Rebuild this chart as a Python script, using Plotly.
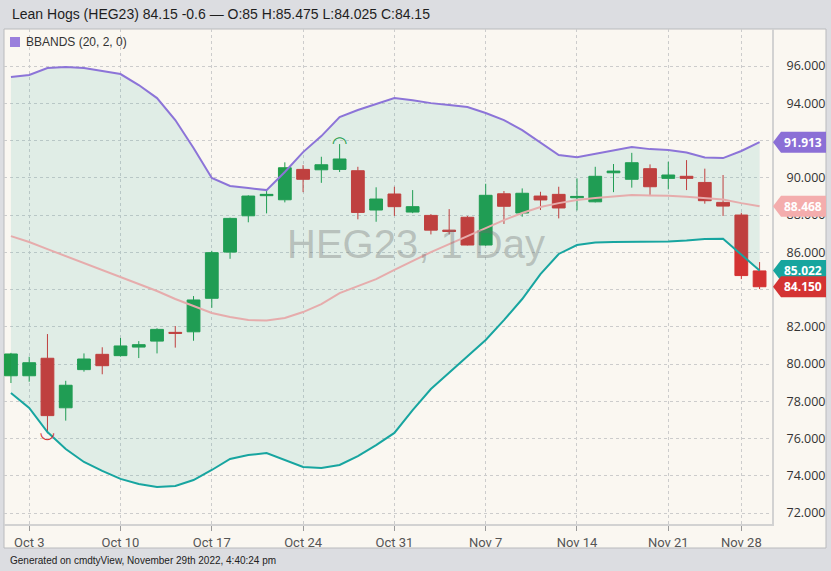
import plotly.graph_objects as go

# ---------------- data ----------------
dates = ["2022-09-30",
         "2022-10-03", "2022-10-04", "2022-10-05", "2022-10-06", "2022-10-07",
         "2022-10-10", "2022-10-11", "2022-10-12", "2022-10-13", "2022-10-14",
         "2022-10-17", "2022-10-18", "2022-10-19", "2022-10-20", "2022-10-21",
         "2022-10-24", "2022-10-25", "2022-10-26", "2022-10-27", "2022-10-28",
         "2022-10-31", "2022-11-01", "2022-11-02", "2022-11-03", "2022-11-04",
         "2022-11-07", "2022-11-08", "2022-11-09", "2022-11-10", "2022-11-11",
         "2022-11-14", "2022-11-15", "2022-11-16", "2022-11-17", "2022-11-18",
         "2022-11-21", "2022-11-22", "2022-11-23", "2022-11-25",
         "2022-11-28", "2022-11-29"]

opens = [79.37, 79.37, 80.31, 77.65, 79.70, 80.52, 80.45, 80.91, 81.23, 81.70,
         81.73, 83.53, 86.01, 87.96, 89.04, 88.82, 90.45, 90.43, 90.45, 90.38,
         88.27, 89.13, 88.16, 87.98, 87.19, 87.88, 86.39, 89.14, 88.11, 89.02,
         89.11, 88.93, 88.71, 90.27, 89.92, 90.49, 89.97, 90.08, 89.75, 88.68,
         88.00, 85.00]
highs = [80.60, 80.39, 81.61, 79.10, 80.57, 80.90, 81.40, 81.23, 81.92, 82.04,
         83.65, 86.08, 87.86, 89.06, 89.29, 90.83, 90.68, 91.13, 91.81, 90.59,
         89.49, 89.52, 89.34, 88.05, 88.32, 87.95, 89.68, 89.29, 89.43, 89.25,
         89.52, 89.97, 90.59, 90.74, 91.34, 90.72, 90.86, 90.95, 90.49, 90.15,
         88.12, 85.475]
lows = [78.98, 79.05, 76.28, 76.96, 79.59, 79.45, 80.40, 80.32, 80.57, 80.88,
        81.25, 83.02, 85.65, 87.61, 88.09, 88.68, 89.23, 89.73, 90.31, 87.77,
        87.64, 87.95, 88.10, 86.96, 86.96, 86.37, 86.35, 87.52, 87.91, 88.27,
        87.82, 88.25, 88.68, 89.23, 89.47, 89.02, 89.38, 89.34, 88.61, 87.95,
        84.56, 84.025]
closes = [80.54, 80.07, 77.23, 78.86, 80.27, 79.91, 80.97, 81.04, 81.86, 81.65,
          83.44, 85.98, 87.82, 89.02, 89.11, 90.54, 89.92, 90.70, 91.01, 88.14,
          88.86, 88.45, 88.45, 87.19, 87.12, 86.39, 89.06, 88.47, 89.17, 88.81,
          88.38, 89.00, 90.08, 90.36, 90.81, 89.52, 90.15, 89.97, 88.77, 88.48,
          84.75, 84.15]

bb_upper = [95.41, 95.52, 95.89, 95.95, 95.89, 95.73, 95.57, 94.98, 94.28, 93.10,
            91.60, 89.99, 89.56, 89.45, 89.34, 90.31, 91.38, 92.24, 93.26, 93.64,
            93.96, 94.28, 94.17, 94.01, 93.91, 93.80, 93.48, 93.10, 92.56, 91.87,
            91.22, 91.11, 91.28, 91.49, 91.65, 91.54, 91.49, 91.36, 91.09, 91.06,
            91.44, 91.913]
bb_mid = [86.87, 86.55, 86.17, 85.80, 85.42, 85.05, 84.67, 84.30, 83.92, 83.49,
          83.11, 82.74, 82.52, 82.36, 82.34, 82.47, 82.79, 83.22, 83.81, 84.19,
          84.56, 85.05, 85.53, 86.01, 86.44, 86.87, 87.30, 87.73, 88.11, 88.43,
          88.64, 88.81, 88.91, 88.99, 89.07, 89.05, 89.04, 88.98, 88.91, 88.84,
          88.64, 88.468]
bb_lower = [78.44, 77.64, 76.35, 75.44, 74.74, 74.26, 73.83, 73.56, 73.40, 73.45,
            73.77, 74.31, 74.90, 75.11, 75.22, 74.85, 74.47, 74.42, 74.58, 75.06,
            75.65, 76.30, 77.53, 78.66, 79.52, 80.38, 81.29, 82.36, 83.49, 84.83,
            85.91, 86.39, 86.52, 86.55, 86.55, 86.55, 86.58, 86.63, 86.71, 86.73,
            85.85, 85.022]

pivot_low_idx = 2
pivot_high_idx = 18

tick_dates = ["2022-10-03", "2022-10-10", "2022-10-17", "2022-10-24", "2022-10-31",
              "2022-11-07", "2022-11-14", "2022-11-21", "2022-11-28"]
tick_labels = ["Oct 3", "Oct 10", "Oct 17", "Oct 24", "Oct 31",
               "Nov 7", "Nov 14", "Nov 21", "Nov 28"]
y_ticks = [72, 74, 76, 78, 80, 82, 84, 86, 88, 90, 92, 94, 96]

title_text = "Lean Hogs (HEG23) 84.15 -0.6 \u2014 O:85 H:85.475 L:84.025 C:84.15"
legend_text = "BBANDS (20, 2, 0)"
watermark = "HEG23, 1 Day"
footer_text = "Generated on cmdtyView, November 29th 2022, 4:40:24 pm"

# ---------------- style ----------------
W, H = 831, 571
ML, MR, MT, MB = 4, 59, 29, 47
PW, PH = W - ML - MR, H - MT - MB
Y_RANGE = [71.41, 97.99]

def px(x):
    return (x - ML) / PW

def py(y):
    return (H - MB - y) / PH

GREEN = "#1f9d4a"
RED = "#d43333"
PURPLE = "#8c74d8"
PINK = "#e6acac"
TEAL = "#17a5a0"
CREAM = "#faf7f1"
GRAYBG = "#dcdde1"

fig = go.Figure()

fig.add_trace(go.Scatter(x=dates, y=bb_upper, mode="lines",
                         line=dict(color=PURPLE, width=2), hoverinfo="skip"))
fig.add_trace(go.Scatter(x=dates, y=bb_lower, mode="lines",
                         line=dict(color=TEAL, width=2), fill="tonexty",
                         fillcolor="rgba(38,166,154,0.12)", hoverinfo="skip"))
fig.add_trace(go.Scatter(x=dates, y=bb_mid, mode="lines",
                         line=dict(color=PINK, width=2), hoverinfo="skip"))

fig.add_trace(go.Candlestick(
    x=dates, open=opens, high=highs, low=lows, close=closes,
    increasing=dict(line=dict(color=GREEN, width=1), fillcolor=GREEN),
    decreasing=dict(line=dict(color=RED, width=1), fillcolor=RED),
    whiskerwidth=0))

fig.add_trace(go.Scatter(x=[dates[pivot_low_idx]], y=[lows[pivot_low_idx]],
                         mode="text", text=["\u25e1"], textposition="middle center",
                         textfont=dict(color=RED, size=18, family="DejaVu Sans")))
fig.add_trace(go.Scatter(x=[dates[pivot_high_idx]], y=[highs[pivot_high_idx]],
                         mode="text", text=["\u25e0"], textposition="middle center",
                         textfont=dict(color=GREEN, size=18, family="DejaVu Sans")))

shapes = []
# cream panel
shapes.append(dict(type="rect", xref="paper", yref="paper", layer="below",
                   x0=px(4), x1=px(826), y0=py(548), y1=py(29),
                   fillcolor=CREAM, line=dict(color="#b9babd", width=1)))
# legend swatch
shapes.append(dict(type="rect", xref="paper", yref="paper",
                   x0=px(10), x1=px(20), y0=py(47), y1=py(37),
                   fillcolor="#9a7fdc", line=dict(width=0)))

annotations = []
# price tags on the right axis
half = 10.5 * (Y_RANGE[1] - Y_RANGE[0]) / PH
tags = [(bb_upper[-1], "#8b6fd6"), (bb_mid[-1], "#f4adad"),
        (bb_lower[-1], "#17a59e"), (closes[-1], "#d43333")]
for val, col in tags:
    xa, xb, xc = px(773), px(781), px(826)
    path = (f"M {xa},{val} L {xb},{val + half} L {xc},{val + half} "
            f"L {xc},{val - half} L {xb},{val - half} Z")
    shapes.append(dict(type="path", xref="paper", yref="y", path=path,
                       fillcolor=col, line=dict(width=0), layer="above"))
    annotations.append(dict(x=px(803), y=val, xref="paper", yref="y",
                            text=f"<b>{val:.3f}</b>", showarrow=False,
                            font=dict(color="white", size=12, family="Open Sans"),
                            xanchor="center", yanchor="middle"))

annotations.append(dict(x=px(10), y=py(14), xref="paper", yref="paper",
                        text=title_text, showarrow=False, xanchor="left",
                        yanchor="middle",
                        font=dict(size=14, color="#1e1e1e", family="Liberation Sans")))
annotations.append(dict(x=px(24), y=py(42), xref="paper", yref="paper",
                        text=legend_text, showarrow=False, xanchor="left",
                        yanchor="middle",
                        font=dict(size=12, color="#333333", family="Liberation Sans")))
annotations.append(dict(x=px(416), y=py(244), xref="paper", yref="paper",
                        text=watermark, showarrow=False, xanchor="center",
                        yanchor="middle",
                        font=dict(size=40, color="rgba(110,110,110,0.36)",
                                  family="Liberation Sans")))
annotations.append(dict(x=px(8), y=py(560), xref="paper", yref="paper",
                        text=footer_text, showarrow=False, xanchor="left",
                        yanchor="middle",
                        font=dict(size=10, color="#222222", family="Liberation Sans")))

fig.update_layout(
    width=W, height=H,
    margin=dict(l=ML, r=MR, t=MT, b=MB),
    paper_bgcolor=GRAYBG, plot_bgcolor=CREAM,
    showlegend=False, boxgroupgap=0, boxgap=0.3,
    shapes=shapes, annotations=annotations,
    xaxis=dict(type="category", categoryorder="array", categoryarray=dates,
               range=[-0.38, 41.68], rangeslider=dict(visible=False),
               tickmode="array", tickvals=tick_dates, ticktext=tick_labels,
               showgrid=True, gridcolor="#cccccc", griddash="dot", gridwidth=1,
               ticks="outside", ticklen=5, tickcolor="#999999",
               showline=True, linecolor="#d2d2d2", linewidth=2,
               tickfont=dict(size=13, color="#555555",
                             family="Liberation Sans Narrow, Roboto"),
               zeroline=False, fixedrange=True),
    yaxis=dict(side="right", range=Y_RANGE, tickmode="array",
               tickvals=y_ticks, ticktext=[f"{v:.3f}" for v in y_ticks],
               showgrid=True, gridcolor="#cccccc", griddash="dot", gridwidth=1,
               ticks="", ticklabelstandoff=10,
               showline=True, linecolor="#d2d2d2", linewidth=2,
               tickfont=dict(size=12.5, color="#333333", family="Open Sans"),
               zeroline=False, fixedrange=True),
)

fig.write_html("out.html", config={"displayModeBar": False},
               post_script="document.body.style.margin='0';document.body.style.overflow='hidden';")
